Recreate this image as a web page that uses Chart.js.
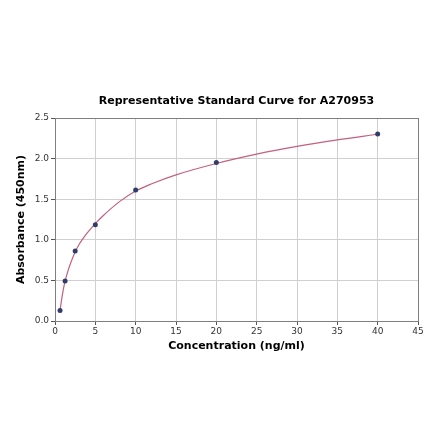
<!DOCTYPE html>
<html>
<head>
<meta charset="utf-8">
<title>Representative Standard Curve for A270953</title>
<script src="https://cdn.jsdelivr.net/npm/chart.js@4/dist/chart.umd.min.js"></script>
<style>
  html, body { margin: 0; padding: 0; background: #fff; }
  canvas { display: block; }
</style>
</head>
<body>
<canvas id="std_chart" width="440" height="441"></canvas>
<script>
// Данные: точки стандартов
const concentration = [0.625, 1.25, 2.5, 5, 10, 20, 40];
const absorbance = [0.128, 0.494, 0.861, 1.186, 1.614, 1.952, 2.302];
// Кривая аппроксимации
const curveX = [0.625, 0.8, 1.0, 1.25, 1.6, 2.0, 2.5, 3, 4, 5, 6, 8, 10, 12, 15, 20, 25, 30, 35, 40];
const curveY = [0.13, 0.25, 0.37, 0.49, 0.615, 0.73, 0.85, 0.945, 1.085, 1.2, 1.3, 1.47, 1.6, 1.69, 1.8, 1.94, 2.055, 2.15, 2.23, 2.3];
const xTicks = [0, 5, 10, 15, 20, 25, 30, 35, 40, 45];
const yTicks = [0.0, 0.5, 1.0, 1.5, 2.0, 2.5];

// Рамка вокруг области графика
const frame = {
  id: "frame",
  afterDraw(chart) {
    const { ctx, chartArea: a } = chart;
    ctx.save();
    ctx.strokeStyle = "#7f7f7f";
    ctx.lineWidth = 1;
    ctx.strokeRect(a.left + 0.5, a.top + 0.5, a.right - a.left, a.bottom - a.top);
    ctx.restore();
  },
};

const ctx = document.getElementById("std_chart").getContext("2d");
const myChart = new Chart(ctx, {
  type: "scatter",
  data: {
    datasets: [
      {
        data: concentration.map((x, i) => ({ x: x, y: absorbance[i] })),
        showLine: false,
        pointRadius: 2.5,
        pointBackgroundColor: "#2f3d6b",
        pointBorderColor: "#2f3d6b",
        pointBorderWidth: 0,
      },
      {
        data: curveX.map((x, i) => ({ x: x, y: curveY[i] })),
        showLine: true,
        cubicInterpolationMode: "monotone",
        borderColor: "#c4607f",
        borderWidth: 1.2,
        pointRadius: 0,
      },
    ],
  },
  plugins: [frame],
  options: {
    responsive: false,
    animation: false,
    layout: { padding: { top: 0, right: 22, bottom: 0, left: 0 } },
    plugins: {
      legend: { display: false },
      tooltip: { enabled: false },
      title: {
        display: true,
        fullSize: false,
        text: "Representative Standard Curve for A270953",
        color: "#000",
        font: { family: "DejaVu Sans", size: 11, weight: "bold" },
        padding: { top: 95, bottom: 9.8 },
      },
    },
    scales: {
      x: {
        type: "linear",
        min: 0,
        max: 45,
        afterBuildTicks: (scale) => {
          scale.ticks = xTicks.map((v) => ({ value: v }));
        },
        afterFit: (scale) => {
          scale.height = 120;
        },
        grid: {
          color: "#d0d0d0",
          tickColor: "#555",
          tickLength: 4,
        },
        border: { display: false },
        ticks: {
          color: "#333",
          padding: 1,
          font: { family: "DejaVu Sans", size: 9 },
          callback: (v) => String(v),
        },
        title: {
          display: true,
          text: "Concentration (ng/ml)",
          color: "#000",
          font: { family: "DejaVu Sans", size: 11, weight: "bold" },
          padding: { top: 0, bottom: 88 },
        },
      },
      y: {
        type: "linear",
        min: 0,
        max: 2.5,
        afterBuildTicks: (scale) => {
          scale.ticks = yTicks.map((v) => ({ value: v }));
        },
        afterFit: (scale) => {
          scale.width = 55;
        },
        grid: {
          color: "#d0d0d0",
          tickColor: "#555",
          tickLength: 4,
        },
        border: { display: false },
        ticks: {
          color: "#333",
          padding: 2,
          font: { family: "DejaVu Sans", size: 9 },
          callback: (v) => v.toFixed(1),
        },
        title: {
          display: true,
          text: "Absorbance (450nm)",
          color: "#000",
          font: { family: "DejaVu Sans", size: 11, weight: "bold" },
          padding: { top: 15, bottom: 0 },
        },
      },
    },
  },
});
</script>
</body>
</html>
